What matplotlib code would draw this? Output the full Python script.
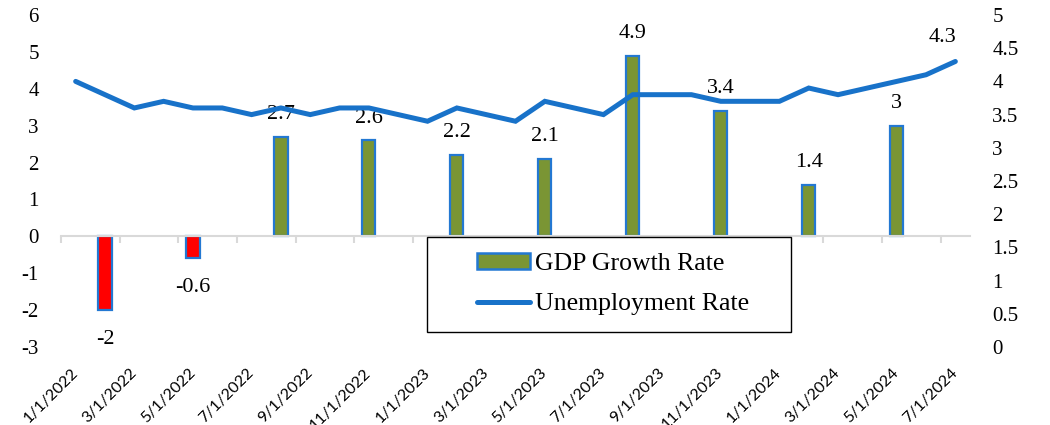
import numpy as np
import matplotlib
matplotlib.use("Agg")
import matplotlib.pyplot as plt
from matplotlib.ticker import FixedLocator, FuncFormatter
from matplotlib.patches import Patch, Rectangle
from matplotlib.lines import Line2D

# monthly dates, Jan 2022 - Jul 2024
months = ['1/1/2022', '2/1/2022', '3/1/2022', '4/1/2022', '5/1/2022', '6/1/2022',
          '7/1/2022', '8/1/2022', '9/1/2022', '10/1/2022', '11/1/2022', '12/1/2022',
          '1/1/2023', '2/1/2023', '3/1/2023', '4/1/2023', '5/1/2023', '6/1/2023',
          '7/1/2023', '8/1/2023', '9/1/2023', '10/1/2023', '11/1/2023', '12/1/2023',
          '1/1/2024', '2/1/2024', '3/1/2024', '4/1/2024', '5/1/2024', '6/1/2024',
          '7/1/2024']
unemployment = [4.0, 3.8, 3.6, 3.7, 3.6, 3.6, 3.5, 3.6, 3.5, 3.6, 3.6, 3.5,
                3.4, 3.6, 3.5, 3.4, 3.7, 3.6, 3.5, 3.8, 3.8, 3.8, 3.7, 3.7,
                3.7, 3.9, 3.8, 3.9, 4.0, 4.1, 4.3]

gdp_dates = ['2/1/2022', '5/1/2022', '8/1/2022', '11/1/2022', '2/1/2023',
             '5/1/2023', '8/1/2023', '11/1/2023', '2/1/2024', '5/1/2024']
gdp_values = [-2, -0.6, 2.7, 2.6, 2.2, 2.1, 4.9, 3.4, 1.4, 3]

left_ticks = [-3, -2, -1, 0, 1, 2, 3, 4, 5, 6]
right_ticks = [0, 0.5, 1, 1.5, 2, 2.5, 3, 3.5, 4, 4.5, 5]

GREEN = '#7A9534'
RED = '#FF0000'
EDGE = '#2378D2'
LINE = '#1872C9'
SERIF = 'Liberation Serif'
W, H = 1050, 425

x = np.arange(len(months))
gdp_x = np.array([months.index(d) for d in gdp_dates])
gdp_colors = [GREEN if v >= 0 else RED for v in gdp_values]

fig = plt.figure(figsize=(W / 100, H / 100), dpi=100)
ax = fig.add_axes([61 / W, (H - 347) / H, 909 / W, 332 / H])
ax2 = ax.twinx()

# GDP bars on the left axis
ax.bar(gdp_x, gdp_values, width=0.45, color=gdp_colors,
       edgecolor=EDGE, linewidth=1.6, zorder=2)
ax.set_ylim(-3, 6)
ax.set_xlim(-0.5, len(months) - 0.5)
ax.set_yticks(left_ticks)
ax.yaxis.set_major_formatter(FuncFormatter(lambda v, p: f'{v:g}'))
ax.tick_params(axis='y', length=0, pad=16, labelsize=15)
for t in ax.get_yticklabels():
    t.set_fontfamily(SERIF)

for xi, v in zip(gdp_x, gdp_values):
    off = 16 if v >= 0 else -21
    ax.annotate(f'{v:g}', (xi, v), xytext=(0, off), textcoords='offset points',
                ha='center', va='center', fontsize=16, family=SERIF)

# zero line with boundary tick marks
for s in ['top', 'right', 'left']:
    ax.spines[s].set_visible(False)
ax.spines['bottom'].set_position(('data', 0))
ax.spines['bottom'].set_color('#D9D9D9')
ax.spines['bottom'].set_linewidth(1.5)
ax.xaxis.set_major_locator(FixedLocator(np.arange(-0.5, len(months) - 1, 2)))
ax.tick_params(axis='x', which='major', length=5, width=1.5, color='#D9D9D9',
               labelbottom=False)

# date labels at the bottom of the plot
sec = ax.secondary_xaxis('bottom')
sec.spines['bottom'].set_visible(False)
sec.set_xticks(x[::2])
sec.set_xticklabels(months[::2], rotation=45, ha='right', va='center',
                    rotation_mode='anchor', fontsize=11.5, family='Lato')
sec.tick_params(axis='x', length=0, pad=17)

# unemployment line on the right axis
ax2.plot(x, unemployment, color=LINE, linewidth=3.6,
         solid_capstyle='round', solid_joinstyle='miter', zorder=3)
ax2.set_ylim(0, 5)
ax2.set_yticks(right_ticks)
ax2.yaxis.set_major_formatter(FuncFormatter(lambda v, p: f'{v:g}'))
ax2.tick_params(axis='y', length=0, pad=16, labelsize=15)
for t in ax2.get_yticklabels():
    t.set_fontfamily(SERIF)
for s in ax2.spines.values():
    s.set_visible(False)
ax2.annotate(f'{unemployment[-1]:g}', (x[-1], unemployment[-1]), xytext=(-9, 17),
             textcoords='offset points', ha='center', va='center',
             fontsize=16, family=SERIF)

# legend: white box with black frame, entries indented like the original
box = Rectangle((427 / W, (H - 332) / H), 364 / W, 95 / H, transform=fig.transFigure,
                facecolor='white', edgecolor='black', linewidth=1.0, zorder=10)
fig.patches.append(box)
handles = [Patch(facecolor=GREEN, edgecolor=EDGE, linewidth=1.8),
           Line2D([], [], color=LINE, linewidth=3.6, solid_capstyle='round')]
leg = fig.legend(handles, ['GDP Growth Rate', 'Unemployment Rate'],
                 loc='center left', bbox_to_anchor=(477 / W, (H - 284) / H),
                 prop={'family': SERIF, 'size': 18.5}, frameon=False,
                 handlelength=2.06, handleheight=0.58, labelspacing=0.72,
                 borderpad=0, borderaxespad=0, handletextpad=0.2)
leg.set_zorder(11)

fig.savefig('out.png', dpi=100)
